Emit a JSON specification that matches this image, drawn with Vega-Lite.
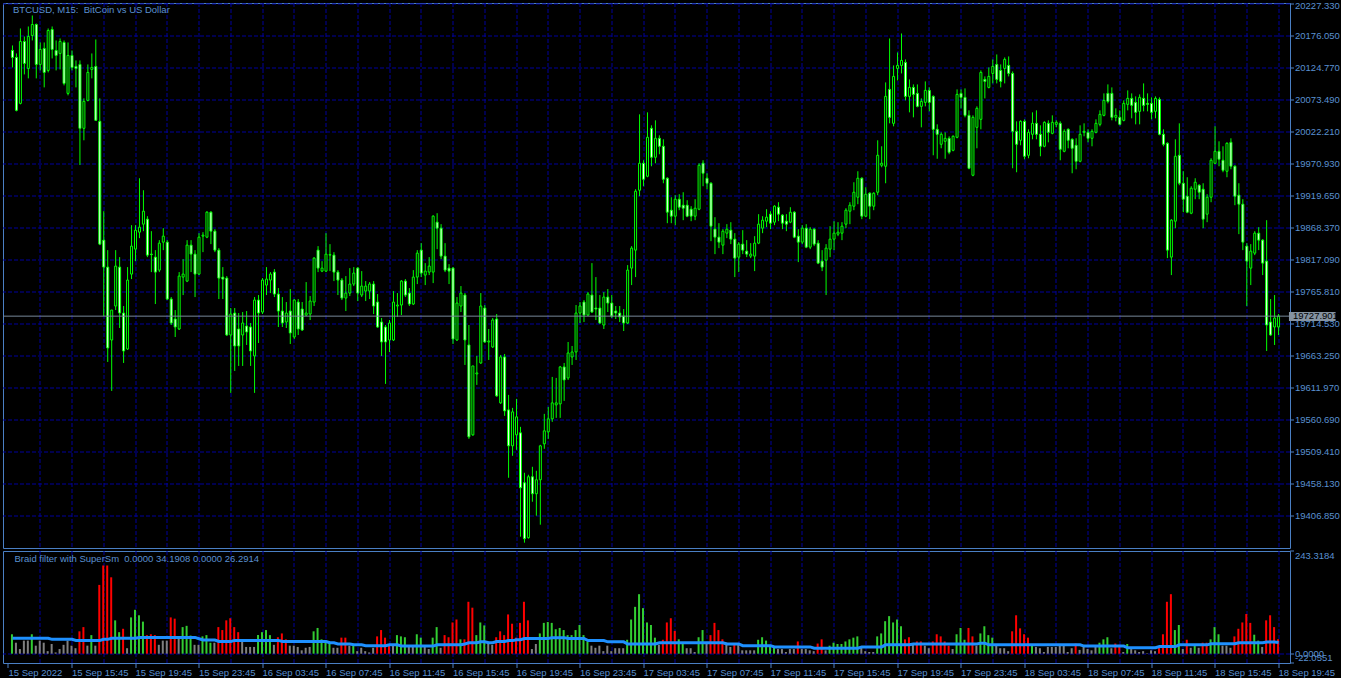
{
"$schema":"https://vega.github.io/schema/vega-lite/v6.json",
"background":"#000000",
"padding":{"left":2,"top":0,"right":0,"bottom":0},
"bounds":"flush",
"spacing":3,
"config":{
"view":{"stroke":"#4a7fc4","strokeWidth":1},
"axis":{"translate":0,"labelFont":"Liberation Sans","labelFontSize":9.5,"labelColor":"#5a90d0","domain":false,"tickColor":"#4a7fc4","gridColor":"#00009c","gridDash":[4,2],"gridWidth":1,"title":null,"tickCount":200}
},
"datasets":{"bars":[
{"t":"2022-09-15T12:00","o":20153.7,"h":20161.7,"l":20126.5,"c":20142.5,"v":46,"k":"g","s":36.5},
{"t":"2022-09-15T12:15","o":20142.5,"h":20148.9,"l":20056.1,"c":20057.7,"v":26,"k":"n","s":36.5},
{"t":"2022-09-15T12:30","o":20068.9,"h":20188.9,"l":20067.3,"c":20168.1,"v":11,"k":"n","s":36.5},
{"t":"2022-09-15T12:45","o":20168.1,"h":20176.1,"l":20115.3,"c":20132.9,"v":31,"k":"n","s":36.5},
{"t":"2022-09-15T13:00","o":20124.9,"h":20192.1,"l":20108.9,"c":20176.1,"v":31,"k":"n","s":36.5},
{"t":"2022-09-15T13:15","o":20177.7,"h":20209.7,"l":20169.7,"c":20195.3,"v":46,"k":"g","s":36.5},
{"t":"2022-09-15T13:30","o":20195.3,"h":20196.9,"l":20108.9,"c":20131.3,"v":19,"k":"n","s":36.5},
{"t":"2022-09-15T13:45","o":20131.3,"h":20166.5,"l":20121.7,"c":20155.3,"v":31,"k":"n","s":36.5},
{"t":"2022-09-15T14:00","o":20156.9,"h":20166.5,"l":20094.5,"c":20118.5,"v":26,"k":"n","s":36.5},
{"t":"2022-09-15T14:15","o":20121.7,"h":20188.9,"l":20118.5,"c":20185.7,"v":6,"k":"n","s":36.5},
{"t":"2022-09-15T14:30","o":20187.3,"h":20192.1,"l":20140.9,"c":20155.3,"v":23,"k":"n","s":34},
{"t":"2022-09-15T14:45","o":20153.7,"h":20169.7,"l":20121.7,"c":20145.7,"v":3,"k":"n","s":34},
{"t":"2022-09-15T15:00","o":20148.9,"h":20172.9,"l":20123.3,"c":20168.1,"v":11,"k":"n","s":34},
{"t":"2022-09-15T15:15","o":20166.5,"h":20169.7,"l":20097.7,"c":20100.9,"v":21,"k":"n","s":34},
{"t":"2022-09-15T15:30","o":20084.9,"h":20166.5,"l":20081.7,"c":20145.7,"v":31,"k":"n","s":34},
{"t":"2022-09-15T15:45","o":20145.7,"h":20153.7,"l":20121.7,"c":20126.5,"v":19,"k":"n","s":34},
{"t":"2022-09-15T16:00","o":20128.1,"h":20137.7,"l":20094.5,"c":20124.9,"v":13,"k":"n","s":31.5},
{"t":"2022-09-15T16:15","o":20131.3,"h":20137.7,"l":19970.1,"c":20028.9,"v":53,"k":"r","s":31.5},
{"t":"2022-09-15T16:30","o":20028.9,"h":20076.9,"l":20009.7,"c":20072.1,"v":63,"k":"r","s":31.5},
{"t":"2022-09-15T16:45","o":20073.7,"h":20131.3,"l":20072.1,"c":20118.5,"v":19,"k":"n","s":31.5},
{"t":"2022-09-15T17:00","o":20123.3,"h":20148.9,"l":20108.9,"c":20126.5,"v":44,"k":"g","s":31.5},
{"t":"2022-09-15T17:15","o":20128.1,"h":20171.3,"l":20041.7,"c":20041.7,"v":19,"k":"n","s":31.5},
{"t":"2022-09-15T17:30","o":20040.1,"h":20076.9,"l":19841.7,"c":19843.3,"v":163,"k":"r","s":31.5},
{"t":"2022-09-15T17:45","o":19849.7,"h":19896.1,"l":19728.1,"c":19806.5,"v":209,"k":"r","s":34},
{"t":"2022-09-15T18:00","o":19806.5,"h":19833.7,"l":19654.5,"c":19676.9,"v":209,"k":"r","s":34},
{"t":"2022-09-15T18:15","o":19689.7,"h":19737.7,"l":19608.1,"c":19737.7,"v":181,"k":"r","s":36.5},
{"t":"2022-09-15T18:30","o":19744.1,"h":19833.7,"l":19737.7,"c":19808.1,"v":79,"k":"g","s":36.5},
{"t":"2022-09-15T18:45","o":19806.5,"h":19822.5,"l":19708.9,"c":19732.9,"v":51,"k":"g","s":36.5},
{"t":"2022-09-15T19:00","o":19732.9,"h":19744.1,"l":19652.9,"c":19672.1,"v":59,"k":"r","s":36.5},
{"t":"2022-09-15T19:15","o":19675.3,"h":19806.5,"l":19673.7,"c":19785.7,"v":13,"k":"n","s":36.5},
{"t":"2022-09-15T19:30","o":19795.3,"h":19873.7,"l":19787.3,"c":19840.1,"v":86,"k":"g","s":36.5},
{"t":"2022-09-15T19:45","o":19835.3,"h":19873.7,"l":19816.1,"c":19865.7,"v":104,"k":"g","s":36.5},
{"t":"2022-09-15T20:00","o":19862.5,"h":19948.9,"l":19852.9,"c":19870.5,"v":91,"k":"g","s":38.5},
{"t":"2022-09-15T20:15","o":19875.3,"h":19929.7,"l":19864.1,"c":19896.1,"v":76,"k":"g","s":38.5},
{"t":"2022-09-15T20:30","o":19883.3,"h":19888.1,"l":19822.5,"c":19825.7,"v":44,"k":"r","s":38.5},
{"t":"2022-09-15T20:45","o":19827.3,"h":19864.1,"l":19798.5,"c":19826.5,"v":46,"k":"r","s":38.5},
{"t":"2022-09-15T21:00","o":19822.5,"h":19833.7,"l":19747.3,"c":19798.5,"v":44,"k":"r","s":38.5},
{"t":"2022-09-15T21:15","o":19801.7,"h":19849.7,"l":19798.5,"c":19844.9,"v":21,"k":"n","s":38.5},
{"t":"2022-09-15T21:30","o":19846.5,"h":19868.9,"l":19833.7,"c":19856.1,"v":31,"k":"n","s":38.5},
{"t":"2022-09-15T21:45","o":19846.5,"h":19849.7,"l":19753.7,"c":19755.3,"v":31,"k":"n","s":38.5},
{"t":"2022-09-15T22:00","o":19755.3,"h":19758.5,"l":19713.7,"c":19716.9,"v":86,"k":"r","s":38.5},
{"t":"2022-09-15T22:15","o":19723.3,"h":19737.7,"l":19694.5,"c":19710.5,"v":83,"k":"r","s":38.5},
{"t":"2022-09-15T22:30","o":19707.3,"h":19798.5,"l":19705.7,"c":19792.1,"v":36,"k":"n","s":38.5},
{"t":"2022-09-15T22:45","o":19790.5,"h":19819.3,"l":19761.7,"c":19795.3,"v":63,"k":"g","s":38.5},
{"t":"2022-09-15T23:00","o":19784.1,"h":19849.7,"l":19782.5,"c":19841.7,"v":66,"k":"g","s":38.5},
{"t":"2022-09-15T23:15","o":19841.7,"h":19849.7,"l":19798.5,"c":19827.3,"v":43,"k":"g","s":38.5},
{"t":"2022-09-15T23:30","o":19827.3,"h":19833.7,"l":19758.5,"c":19795.3,"v":21,"k":"n","s":38.5},
{"t":"2022-09-15T23:45","o":19795.3,"h":19860.9,"l":19793.7,"c":19854.5,"v":21,"k":"n","s":35.5},
{"t":"2022-09-16T00:00","o":19856.1,"h":19862.5,"l":19830.5,"c":19857.7,"v":41,"k":"g","s":32.5},
{"t":"2022-09-16T00:15","o":19854.5,"h":19896.1,"l":19852.9,"c":19894.5,"v":44,"k":"g","s":32.5},
{"t":"2022-09-16T00:30","o":19894.5,"h":19896.1,"l":19843.3,"c":19864.1,"v":26,"k":"g","s":32.5},
{"t":"2022-09-16T00:45","o":19864.1,"h":19867.3,"l":19830.5,"c":19833.7,"v":26,"k":"n","s":32.5},
{"t":"2022-09-16T01:00","o":19833.7,"h":19836.9,"l":19755.3,"c":19788.9,"v":63,"k":"r","s":29},
{"t":"2022-09-16T01:15","o":19790.5,"h":19806.5,"l":19755.3,"c":19787.3,"v":56,"k":"r","s":29},
{"t":"2022-09-16T01:30","o":19788.9,"h":19792.1,"l":19696.1,"c":19697.7,"v":79,"k":"r","s":29},
{"t":"2022-09-16T01:45","o":19697.7,"h":19740.9,"l":19604.9,"c":19731.3,"v":84,"k":"r","s":29},
{"t":"2022-09-16T02:00","o":19732.9,"h":19740.9,"l":19640.1,"c":19680.1,"v":63,"k":"r","s":31.5},
{"t":"2022-09-16T02:15","o":19707.3,"h":19732.9,"l":19648.1,"c":19680.1,"v":51,"k":"r","s":31.5},
{"t":"2022-09-16T02:30","o":19697.7,"h":19734.5,"l":19648.1,"c":19716.9,"v":29,"k":"n","s":31.5},
{"t":"2022-09-16T02:45","o":19712.1,"h":19736.1,"l":19681.7,"c":19702.5,"v":16,"k":"n","s":31.5},
{"t":"2022-09-16T03:00","o":19710.5,"h":19716.9,"l":19648.1,"c":19672.1,"v":16,"k":"n","s":31.5},
{"t":"2022-09-16T03:15","o":19664.1,"h":19758.5,"l":19604.9,"c":19753.7,"v":16,"k":"n","s":31.5},
{"t":"2022-09-16T03:30","o":19753.7,"h":19761.7,"l":19684.9,"c":19732.9,"v":44,"k":"g","s":31.5},
{"t":"2022-09-16T03:45","o":19734.5,"h":19788.9,"l":19731.3,"c":19785.7,"v":51,"k":"g","s":31.5},
{"t":"2022-09-16T04:00","o":19777.7,"h":19806.5,"l":19761.7,"c":19787.3,"v":56,"k":"g","s":31.5},
{"t":"2022-09-16T04:15","o":19785.7,"h":19798.5,"l":19764.9,"c":19795.3,"v":44,"k":"g","s":31.5},
{"t":"2022-09-16T04:30","o":19798.5,"h":19803.3,"l":19758.5,"c":19763.3,"v":21,"k":"n","s":31.5},
{"t":"2022-09-16T04:45","o":19763.3,"h":19772.9,"l":19710.5,"c":19736.1,"v":39,"k":"r","s":31.5},
{"t":"2022-09-16T05:00","o":19736.1,"h":19758.5,"l":19710.5,"c":19716.9,"v":48,"k":"r","s":29},
{"t":"2022-09-16T05:15","o":19718.5,"h":19750.5,"l":19708.9,"c":19732.9,"v":34,"k":"r","s":29},
{"t":"2022-09-16T05:30","o":19736.1,"h":19771.3,"l":19683.3,"c":19700.9,"v":19,"k":"n","s":29},
{"t":"2022-09-16T05:45","o":19694.5,"h":19755.3,"l":19691.3,"c":19753.7,"v":19,"k":"n","s":29},
{"t":"2022-09-16T06:00","o":19750.5,"h":19755.3,"l":19697.7,"c":19707.3,"v":16,"k":"n","s":29},
{"t":"2022-09-16T06:15","o":19739.3,"h":19750.5,"l":19704.1,"c":19705.7,"v":8,"k":"n","s":29},
{"t":"2022-09-16T06:30","o":19729.7,"h":19782.5,"l":19728.1,"c":19732.9,"v":14,"k":"n","s":29},
{"t":"2022-09-16T06:45","o":19731.3,"h":19760.1,"l":19721.7,"c":19752.1,"v":16,"k":"n","s":29},
{"t":"2022-09-16T07:00","o":19750.5,"h":19822.5,"l":19744.1,"c":19820.9,"v":53,"k":"g","s":29},
{"t":"2022-09-16T07:15","o":19833.7,"h":19840.1,"l":19798.5,"c":19804.9,"v":61,"k":"g","s":29},
{"t":"2022-09-16T07:30","o":19800.1,"h":19816.1,"l":19798.5,"c":19804.9,"v":34,"k":"g","s":29},
{"t":"2022-09-16T07:45","o":19800.1,"h":19860.9,"l":19798.5,"c":19827.3,"v":31,"k":"g","s":29},
{"t":"2022-09-16T08:00","o":19825.7,"h":19843.3,"l":19800.1,"c":19826.5,"v":26,"k":"g","s":26},
{"t":"2022-09-16T08:15","o":19825.7,"h":19830.5,"l":19784.1,"c":19798.5,"v":14,"k":"n","s":26},
{"t":"2022-09-16T08:30","o":19798.5,"h":19801.7,"l":19761.7,"c":19785.7,"v":14,"k":"n","s":23},
{"t":"2022-09-16T08:45","o":19785.7,"h":19788.9,"l":19753.7,"c":19756.9,"v":38,"k":"r","s":23},
{"t":"2022-09-16T09:00","o":19756.9,"h":19792.1,"l":19736.1,"c":19764.9,"v":38,"k":"r","s":23},
{"t":"2022-09-16T09:15","o":19764.9,"h":19804.9,"l":19760.1,"c":19779.3,"v":19,"k":"n","s":23},
{"t":"2022-09-16T09:30","o":19779.3,"h":19806.5,"l":19776.1,"c":19796.9,"v":23,"k":"g","s":21},
{"t":"2022-09-16T09:45","o":19804.9,"h":19806.5,"l":19752.1,"c":19764.9,"v":6,"k":"n","s":21},
{"t":"2022-09-16T10:00","o":19761.7,"h":19800.1,"l":19758.5,"c":19776.1,"v":14,"k":"n","s":21},
{"t":"2022-09-16T10:15","o":19768.1,"h":19784.1,"l":19752.1,"c":19776.1,"v":6,"k":"n","s":19},
{"t":"2022-09-16T10:30","o":19768.1,"h":19782.5,"l":19755.3,"c":19779.3,"v":3,"k":"n","s":19},
{"t":"2022-09-16T10:45","o":19779.3,"h":19784.1,"l":19731.3,"c":19744.1,"v":14,"k":"n","s":19},
{"t":"2022-09-16T11:00","o":19750.5,"h":19763.3,"l":19708.9,"c":19710.5,"v":41,"k":"r","s":19},
{"t":"2022-09-16T11:15","o":19718.5,"h":19724.9,"l":19664.1,"c":19686.5,"v":56,"k":"r","s":19},
{"t":"2022-09-16T11:30","o":19710.5,"h":19713.7,"l":19619.3,"c":19686.5,"v":38,"k":"r","s":19},
{"t":"2022-09-16T11:45","o":19689.7,"h":19721.7,"l":19670.5,"c":19716.9,"v":21,"k":"r","s":21},
{"t":"2022-09-16T12:00","o":19689.7,"h":19768.1,"l":19688.1,"c":19750.5,"v":19,"k":"n","s":21},
{"t":"2022-09-16T12:15","o":19744.1,"h":19764.9,"l":19726.5,"c":19745.7,"v":44,"k":"g","s":21},
{"t":"2022-09-16T12:30","o":19745.7,"h":19785.7,"l":19729.7,"c":19784.1,"v":41,"k":"g","s":18},
{"t":"2022-09-16T12:45","o":19784.1,"h":19787.3,"l":19758.5,"c":19761.7,"v":39,"k":"g","s":18},
{"t":"2022-09-16T13:00","o":19764.9,"h":19772.9,"l":19744.1,"c":19747.3,"v":19,"k":"n","s":18},
{"t":"2022-09-16T13:15","o":19747.3,"h":19801.7,"l":19745.7,"c":19790.5,"v":16,"k":"n","s":18},
{"t":"2022-09-16T13:30","o":19790.5,"h":19833.7,"l":19779.3,"c":19828.9,"v":46,"k":"g","s":18},
{"t":"2022-09-16T13:45","o":19833.7,"h":19844.9,"l":19790.5,"c":19796.9,"v":38,"k":"g","s":18},
{"t":"2022-09-16T14:00","o":19793.7,"h":19812.9,"l":19777.7,"c":19800.1,"v":16,"k":"n","s":18},
{"t":"2022-09-16T14:15","o":19798.5,"h":19822.5,"l":19793.7,"c":19808.1,"v":11,"k":"n","s":18},
{"t":"2022-09-16T14:30","o":19798.5,"h":19889.7,"l":19780.9,"c":19888.1,"v":38,"k":"g","s":18},
{"t":"2022-09-16T14:45","o":19878.5,"h":19892.9,"l":19835.3,"c":19868.9,"v":63,"k":"g","s":21},
{"t":"2022-09-16T15:00","o":19868.9,"h":19875.3,"l":19819.3,"c":19824.1,"v":14,"k":"n","s":21},
{"t":"2022-09-16T15:15","o":19824.1,"h":19844.9,"l":19798.5,"c":19801.7,"v":44,"k":"r","s":21},
{"t":"2022-09-16T15:30","o":19804.9,"h":19811.3,"l":19779.3,"c":19800.1,"v":39,"k":"r","s":21},
{"t":"2022-09-16T15:45","o":19804.9,"h":19806.5,"l":19683.3,"c":19691.3,"v":74,"k":"r","s":21},
{"t":"2022-09-16T16:00","o":19689.7,"h":19758.5,"l":19688.1,"c":19748.9,"v":81,"k":"r","s":21},
{"t":"2022-09-16T16:15","o":19744.1,"h":19776.1,"l":19734.5,"c":19764.9,"v":34,"k":"g","s":21},
{"t":"2022-09-16T16:30","o":19761.7,"h":19764.9,"l":19649.7,"c":19689.7,"v":34,"k":"r","s":23},
{"t":"2022-09-16T16:45","o":19681.7,"h":19713.7,"l":19531.3,"c":19534.5,"v":123,"k":"r","s":26},
{"t":"2022-09-16T17:00","o":19537.7,"h":19648.1,"l":19536.1,"c":19648.1,"v":109,"k":"r","s":26},
{"t":"2022-09-16T17:15","o":19635.3,"h":19664.1,"l":19617.7,"c":19636.9,"v":44,"k":"g","s":26},
{"t":"2022-09-16T17:30","o":19652.9,"h":19764.9,"l":19651.3,"c":19744.1,"v":74,"k":"g","s":28},
{"t":"2022-09-16T17:45","o":19740.9,"h":19745.7,"l":19684.9,"c":19686.5,"v":67,"k":"g","s":28},
{"t":"2022-09-16T18:00","o":19686.5,"h":19707.3,"l":19657.7,"c":19688.1,"v":23,"k":"n","s":26},
{"t":"2022-09-16T18:15","o":19678.5,"h":19724.9,"l":19676.9,"c":19721.7,"v":21,"k":"n","s":26},
{"t":"2022-09-16T18:30","o":19723.3,"h":19731.3,"l":19598.5,"c":19600.1,"v":39,"k":"r","s":29},
{"t":"2022-09-16T18:45","o":19588.9,"h":19665.7,"l":19587.3,"c":19662.5,"v":53,"k":"r","s":29},
{"t":"2022-09-16T19:00","o":19662.5,"h":19667.3,"l":19568.1,"c":19576.1,"v":44,"k":"r","s":29},
{"t":"2022-09-16T19:15","o":19577.7,"h":19601.7,"l":19468.9,"c":19520.1,"v":93,"k":"r","s":31},
{"t":"2022-09-16T19:30","o":19520.1,"h":19580.9,"l":19504.1,"c":19574.5,"v":71,"k":"r","s":31},
{"t":"2022-09-16T19:45","o":19537.7,"h":19595.3,"l":19513.7,"c":19566.5,"v":38,"k":"r","s":33},
{"t":"2022-09-16T20:00","o":19540.9,"h":19550.5,"l":19374.5,"c":19452.9,"v":73,"k":"r","s":33},
{"t":"2022-09-16T20:15","o":19460.9,"h":19476.9,"l":19364.9,"c":19371.3,"v":123,"k":"r","s":36},
{"t":"2022-09-16T20:30","o":19372.9,"h":19473.7,"l":19371.3,"c":19470.5,"v":79,"k":"r","s":36},
{"t":"2022-09-16T20:45","o":19470.5,"h":19486.5,"l":19430.5,"c":19443.3,"v":11,"k":"n","s":36},
{"t":"2022-09-16T21:00","o":19443.3,"h":19480.1,"l":19408.1,"c":19465.7,"v":23,"k":"n","s":36},
{"t":"2022-09-16T21:15","o":19465.7,"h":19521.7,"l":19393.7,"c":19520.1,"v":48,"k":"g","s":36},
{"t":"2022-09-16T21:30","o":19523.3,"h":19571.3,"l":19515.3,"c":19544.1,"v":73,"k":"g","s":36},
{"t":"2022-09-16T21:45","o":19542.5,"h":19582.5,"l":19531.3,"c":19563.3,"v":75,"k":"g","s":36},
{"t":"2022-09-16T22:00","o":19563.3,"h":19630.5,"l":19558.5,"c":19588.9,"v":73,"k":"g","s":38},
{"t":"2022-09-16T22:15","o":19585.7,"h":19628.9,"l":19564.9,"c":19588.9,"v":58,"k":"g","s":38},
{"t":"2022-09-16T22:30","o":19587.3,"h":19648.1,"l":19564.9,"c":19646.5,"v":61,"k":"g","s":38},
{"t":"2022-09-16T22:45","o":19646.5,"h":19652.9,"l":19592.1,"c":19625.7,"v":56,"k":"g","s":38},
{"t":"2022-09-16T23:00","o":19628.9,"h":19686.5,"l":19625.7,"c":19668.9,"v":44,"k":"g","s":36},
{"t":"2022-09-16T23:15","o":19662.5,"h":19680.1,"l":19649.7,"c":19670.5,"v":44,"k":"g","s":36},
{"t":"2022-09-16T23:30","o":19670.5,"h":19745.7,"l":19657.7,"c":19732.9,"v":56,"k":"g","s":36},
{"t":"2022-09-16T23:45","o":19732.9,"h":19750.5,"l":19716.9,"c":19744.1,"v":68,"k":"g","s":36},
{"t":"2022-09-17T00:00","o":19750.5,"h":19753.7,"l":19718.5,"c":19729.7,"v":44,"k":"g","s":36},
{"t":"2022-09-17T00:15","o":19729.7,"h":19766.5,"l":19728.1,"c":19763.3,"v":29,"k":"g","s":31},
{"t":"2022-09-17T00:30","o":19761.7,"h":19812.9,"l":19732.9,"c":19734.5,"v":19,"k":"n","s":31},
{"t":"2022-09-17T00:45","o":19740.9,"h":19790.5,"l":19721.7,"c":19739.3,"v":14,"k":"n","s":31},
{"t":"2022-09-17T01:00","o":19740.9,"h":19761.7,"l":19715.3,"c":19716.9,"v":19,"k":"n","s":31},
{"t":"2022-09-17T01:15","o":19713.7,"h":19766.5,"l":19707.3,"c":19758.5,"v":6,"k":"n","s":31},
{"t":"2022-09-17T01:30","o":19758.5,"h":19771.3,"l":19734.5,"c":19748.9,"v":19,"k":"n","s":28},
{"t":"2022-09-17T01:45","o":19748.9,"h":19761.7,"l":19724.9,"c":19728.1,"v":6,"k":"n","s":28},
{"t":"2022-09-17T02:00","o":19736.1,"h":19744.1,"l":19723.3,"c":19732.9,"v":13,"k":"n","s":28},
{"t":"2022-09-17T02:15","o":19732.9,"h":19744.1,"l":19718.5,"c":19726.5,"v":13,"k":"n","s":28},
{"t":"2022-09-17T02:30","o":19728.1,"h":19739.3,"l":19704.1,"c":19716.9,"v":13,"k":"n","s":28},
{"t":"2022-09-17T02:45","o":19716.9,"h":19809.7,"l":19715.3,"c":19801.7,"v":33,"k":"g","s":23},
{"t":"2022-09-17T03:00","o":19804.9,"h":19840.1,"l":19777.7,"c":19836.9,"v":81,"k":"g","s":23},
{"t":"2022-09-17T03:15","o":19833.7,"h":19931.3,"l":19790.5,"c":19928.1,"v":111,"k":"g","s":23},
{"t":"2022-09-17T03:30","o":19929.7,"h":20051.3,"l":19920.1,"c":19972.9,"v":141,"k":"g","s":23},
{"t":"2022-09-17T03:45","o":19972.9,"h":19977.7,"l":19936.1,"c":19947.3,"v":108,"k":"g","s":23},
{"t":"2022-09-17T04:00","o":19952.1,"h":20054.5,"l":19950.5,"c":20014.5,"v":74,"k":"g","s":23},
{"t":"2022-09-17T04:15","o":20028.9,"h":20033.7,"l":19968.1,"c":19982.5,"v":68,"k":"g","s":23},
{"t":"2022-09-17T04:30","o":19982.5,"h":20041.7,"l":19972.9,"c":20012.9,"v":38,"k":"g","s":23},
{"t":"2022-09-17T04:45","o":20012.9,"h":20017.7,"l":19987.3,"c":20000.1,"v":21,"k":"n","s":26},
{"t":"2022-09-17T05:00","o":20000.1,"h":20011.3,"l":19940.9,"c":19947.3,"v":33,"k":"r","s":26},
{"t":"2022-09-17T05:15","o":19948.9,"h":19950.5,"l":19876.9,"c":19894.5,"v":74,"k":"r","s":26},
{"t":"2022-09-17T05:30","o":19897.7,"h":19918.5,"l":19876.9,"c":19888.1,"v":84,"k":"r","s":26},
{"t":"2022-09-17T05:45","o":19888.1,"h":19921.7,"l":19873.7,"c":19915.3,"v":54,"k":"r","s":26},
{"t":"2022-09-17T06:00","o":19915.3,"h":19923.3,"l":19897.7,"c":19902.5,"v":34,"k":"g","s":26},
{"t":"2022-09-17T06:15","o":19905.7,"h":19926.5,"l":19881.7,"c":19900.9,"v":23,"k":"g","s":26},
{"t":"2022-09-17T06:30","o":19905.7,"h":19913.7,"l":19886.5,"c":19888.1,"v":13,"k":"n","s":26},
{"t":"2022-09-17T06:45","o":19899.3,"h":19904.1,"l":19880.1,"c":19888.1,"v":13,"k":"n","s":26},
{"t":"2022-09-17T07:00","o":19888.1,"h":19915.3,"l":19881.7,"c":19900.9,"v":4,"k":"n","s":26},
{"t":"2022-09-17T07:15","o":19899.3,"h":19972.9,"l":19897.7,"c":19969.7,"v":39,"k":"g","s":26},
{"t":"2022-09-17T07:30","o":19972.9,"h":19977.7,"l":19936.1,"c":19956.9,"v":56,"k":"g","s":26},
{"t":"2022-09-17T07:45","o":19948.9,"h":19956.9,"l":19931.3,"c":19940.9,"v":26,"k":"n","s":26},
{"t":"2022-09-17T08:00","o":19940.9,"h":19942.5,"l":19848.1,"c":19872.1,"v":44,"k":"r","s":26},
{"t":"2022-09-17T08:15","o":19867.3,"h":19886.5,"l":19827.3,"c":19854.5,"v":73,"k":"r","s":26},
{"t":"2022-09-17T08:30","o":19854.5,"h":19876.9,"l":19836.9,"c":19846.5,"v":56,"k":"r","s":26},
{"t":"2022-09-17T08:45","o":19841.7,"h":19867.3,"l":19827.3,"c":19864.1,"v":34,"k":"r","s":26},
{"t":"2022-09-17T09:00","o":19860.9,"h":19875.3,"l":19852.9,"c":19867.3,"v":26,"k":"n","s":23},
{"t":"2022-09-17T09:15","o":19865.7,"h":19878.5,"l":19843.3,"c":19851.3,"v":16,"k":"n","s":23},
{"t":"2022-09-17T09:30","o":19851.3,"h":19860.9,"l":19790.5,"c":19820.9,"v":21,"k":"r","s":23},
{"t":"2022-09-17T09:45","o":19822.5,"h":19846.5,"l":19798.5,"c":19843.3,"v":21,"k":"n","s":23},
{"t":"2022-09-17T10:00","o":19843.3,"h":19865.7,"l":19827.3,"c":19833.7,"v":8,"k":"n","s":19},
{"t":"2022-09-17T10:15","o":19832.1,"h":19849.7,"l":19822.5,"c":19827.3,"v":8,"k":"n","s":19},
{"t":"2022-09-17T10:30","o":19824.1,"h":19844.9,"l":19820.9,"c":19827.3,"v":8,"k":"n","s":19},
{"t":"2022-09-17T10:45","o":19824.1,"h":19856.1,"l":19800.1,"c":19844.9,"v":8,"k":"n","s":19},
{"t":"2022-09-17T11:00","o":19844.9,"h":19891.3,"l":19843.3,"c":19875.3,"v":33,"k":"g","s":19},
{"t":"2022-09-17T11:15","o":19868.9,"h":19888.1,"l":19860.9,"c":19881.7,"v":39,"k":"g","s":19},
{"t":"2022-09-17T11:30","o":19880.1,"h":19899.3,"l":19870.5,"c":19886.5,"v":31,"k":"g","s":19},
{"t":"2022-09-17T11:45","o":19891.3,"h":19896.1,"l":19867.3,"c":19876.9,"v":19,"k":"g","s":19},
{"t":"2022-09-17T12:00","o":19878.5,"h":19905.7,"l":19873.7,"c":19904.1,"v":16,"k":"g","s":16},
{"t":"2022-09-17T12:15","o":19902.5,"h":19910.5,"l":19880.1,"c":19891.3,"v":11,"k":"n","s":16},
{"t":"2022-09-17T12:30","o":19889.7,"h":19891.3,"l":19867.3,"c":19876.9,"v":11,"k":"n","s":16},
{"t":"2022-09-17T12:45","o":19880.1,"h":19891.3,"l":19864.1,"c":19875.3,"v":4,"k":"n","s":16},
{"t":"2022-09-17T13:00","o":19878.5,"h":19902.5,"l":19876.9,"c":19894.5,"v":11,"k":"n","s":16},
{"t":"2022-09-17T13:15","o":19894.5,"h":19896.1,"l":19852.9,"c":19854.5,"v":11,"k":"n","s":16},
{"t":"2022-09-17T13:30","o":19856.1,"h":19867.3,"l":19814.5,"c":19846.5,"v":29,"k":"r","s":16},
{"t":"2022-09-17T13:45","o":19846.5,"h":19873.7,"l":19843.3,"c":19868.9,"v":11,"k":"n","s":16},
{"t":"2022-09-17T14:00","o":19868.9,"h":19875.3,"l":19836.9,"c":19838.5,"v":11,"k":"n","s":16},
{"t":"2022-09-17T14:15","o":19838.5,"h":19870.5,"l":19835.3,"c":19867.3,"v":8,"k":"n","s":16},
{"t":"2022-09-17T14:30","o":19867.3,"h":19868.9,"l":19840.1,"c":19843.3,"v":6,"k":"n","s":13},
{"t":"2022-09-17T14:45","o":19844.9,"h":19849.7,"l":19811.3,"c":19812.9,"v":24,"k":"r","s":13},
{"t":"2022-09-17T15:00","o":19816.1,"h":19833.7,"l":19800.1,"c":19806.5,"v":34,"k":"r","s":13},
{"t":"2022-09-17T15:15","o":19817.7,"h":19843.3,"l":19761.7,"c":19836.9,"v":8,"k":"n","s":13},
{"t":"2022-09-17T15:30","o":19835.3,"h":19872.1,"l":19822.5,"c":19851.3,"v":19,"k":"g","s":13},
{"t":"2022-09-17T15:45","o":19851.3,"h":19880.1,"l":19833.7,"c":19860.9,"v":26,"k":"g","s":13},
{"t":"2022-09-17T16:00","o":19859.3,"h":19878.5,"l":19856.1,"c":19862.5,"v":23,"k":"g","s":13},
{"t":"2022-09-17T16:15","o":19860.9,"h":19878.5,"l":19849.7,"c":19872.1,"v":23,"k":"g","s":13},
{"t":"2022-09-17T16:30","o":19875.3,"h":19900.9,"l":19868.9,"c":19897.7,"v":29,"k":"g","s":13},
{"t":"2022-09-17T16:45","o":19896.1,"h":19910.5,"l":19875.3,"c":19905.7,"v":34,"k":"g","s":13},
{"t":"2022-09-17T17:00","o":19904.1,"h":19942.5,"l":19897.7,"c":19926.5,"v":38,"k":"g","s":13},
{"t":"2022-09-17T17:15","o":19918.5,"h":19960.1,"l":19907.3,"c":19948.9,"v":41,"k":"g","s":13},
{"t":"2022-09-17T17:30","o":19948.9,"h":19950.5,"l":19883.3,"c":19888.1,"v":16,"k":"n","s":16},
{"t":"2022-09-17T17:45","o":19888.1,"h":19934.5,"l":19886.5,"c":19923.3,"v":6,"k":"n","s":16},
{"t":"2022-09-17T18:00","o":19924.9,"h":19926.5,"l":19883.3,"c":19904.1,"v":4,"k":"n","s":16},
{"t":"2022-09-17T18:15","o":19904.1,"h":19926.5,"l":19897.7,"c":19924.9,"v":4,"k":"n","s":16},
{"t":"2022-09-17T18:30","o":19926.5,"h":20009.7,"l":19921.7,"c":19985.7,"v":41,"k":"g","s":16},
{"t":"2022-09-17T18:45","o":19969.7,"h":20000.1,"l":19966.5,"c":19972.9,"v":48,"k":"g","s":16},
{"t":"2022-09-17T19:00","o":19968.1,"h":20102.5,"l":19940.9,"c":20080.1,"v":77,"k":"g","s":21},
{"t":"2022-09-17T19:15","o":20091.3,"h":20172.9,"l":20036.9,"c":20046.5,"v":89,"k":"g","s":21},
{"t":"2022-09-17T19:30","o":20036.9,"h":20129.7,"l":20032.1,"c":20112.1,"v":74,"k":"g","s":21},
{"t":"2022-09-17T19:45","o":20124.9,"h":20150.5,"l":20105.7,"c":20129.7,"v":81,"k":"g","s":21},
{"t":"2022-09-17T20:00","o":20129.7,"h":20180.9,"l":20116.9,"c":20137.7,"v":65,"k":"g","s":21},
{"t":"2022-09-17T20:15","o":20134.5,"h":20139.3,"l":20073.7,"c":20080.1,"v":34,"k":"r","s":21},
{"t":"2022-09-17T20:30","o":20080.1,"h":20107.3,"l":20054.5,"c":20094.5,"v":39,"k":"r","s":21},
{"t":"2022-09-17T20:45","o":20094.5,"h":20099.3,"l":20046.5,"c":20083.3,"v":21,"k":"n","s":23},
{"t":"2022-09-17T21:00","o":20084.9,"h":20099.3,"l":20062.5,"c":20064.1,"v":29,"k":"r","s":23},
{"t":"2022-09-17T21:15","o":20064.1,"h":20076.9,"l":20030.5,"c":20072.1,"v":29,"k":"r","s":23},
{"t":"2022-09-17T21:30","o":20070.5,"h":20104.1,"l":20064.1,"c":20089.7,"v":19,"k":"n","s":23},
{"t":"2022-09-17T21:45","o":20089.7,"h":20094.5,"l":20056.1,"c":20070.5,"v":13,"k":"n","s":23},
{"t":"2022-09-17T22:00","o":20080.1,"h":20081.7,"l":19985.7,"c":20027.3,"v":29,"k":"r","s":23},
{"t":"2022-09-17T22:15","o":20027.3,"h":20035.3,"l":19980.1,"c":20019.3,"v":46,"k":"r","s":23},
{"t":"2022-09-17T22:30","o":20003.3,"h":20022.5,"l":19996.9,"c":20019.3,"v":41,"k":"r","s":23},
{"t":"2022-09-17T22:45","o":20008.1,"h":20022.5,"l":19980.1,"c":20012.9,"v":29,"k":"r","s":23},
{"t":"2022-09-17T23:00","o":20012.9,"h":20016.1,"l":19987.3,"c":19990.5,"v":19,"k":"r","s":23},
{"t":"2022-09-17T23:15","o":19993.7,"h":20017.7,"l":19992.1,"c":20016.1,"v":11,"k":"n","s":23},
{"t":"2022-09-17T23:30","o":20014.5,"h":20091.3,"l":20012.9,"c":20083.3,"v":46,"k":"g","s":23},
{"t":"2022-09-17T23:45","o":20084.9,"h":20091.3,"l":20060.9,"c":20078.5,"v":61,"k":"g","s":23},
{"t":"2022-09-18T00:00","o":20078.5,"h":20092.9,"l":20046.5,"c":20049.7,"v":33,"k":"g","s":23},
{"t":"2022-09-18T00:15","o":20049.7,"h":20057.7,"l":19963.3,"c":19964.9,"v":61,"k":"r","s":23},
{"t":"2022-09-18T00:30","o":19953.7,"h":20049.7,"l":19952.1,"c":20046.5,"v":41,"k":"r","s":23},
{"t":"2022-09-18T00:45","o":20030.5,"h":20064.1,"l":19996.9,"c":20060.9,"v":19,"k":"n","s":23},
{"t":"2022-09-18T01:00","o":20043.3,"h":20121.7,"l":20027.3,"c":20118.5,"v":48,"k":"g","s":25},
{"t":"2022-09-18T01:15","o":20107.3,"h":20112.1,"l":20076.9,"c":20104.1,"v":65,"k":"g","s":25},
{"t":"2022-09-18T01:30","o":20094.5,"h":20126.5,"l":20092.9,"c":20112.1,"v":44,"k":"g","s":21},
{"t":"2022-09-18T01:45","o":20116.9,"h":20139.3,"l":20100.9,"c":20128.1,"v":38,"k":"g","s":21},
{"t":"2022-09-18T02:00","o":20131.3,"h":20147.3,"l":20100.9,"c":20107.3,"v":19,"k":"n","s":21},
{"t":"2022-09-18T02:15","o":20121.7,"h":20131.3,"l":20094.5,"c":20104.1,"v":13,"k":"n","s":21},
{"t":"2022-09-18T02:30","o":20124.9,"h":20142.5,"l":20100.9,"c":20139.3,"v":13,"k":"n","s":21},
{"t":"2022-09-18T02:45","o":20129.7,"h":20144.1,"l":20112.1,"c":20116.9,"v":6,"k":"n","s":21},
{"t":"2022-09-18T03:00","o":20116.9,"h":20120.1,"l":19964.9,"c":20024.1,"v":53,"k":"r","s":21},
{"t":"2022-09-18T03:15","o":20024.1,"h":20040.1,"l":19958.5,"c":20003.3,"v":91,"k":"r","s":21},
{"t":"2022-09-18T03:30","o":20009.7,"h":20041.7,"l":20001.7,"c":20040.1,"v":60,"k":"r","s":21},
{"t":"2022-09-18T03:45","o":20040.1,"h":20043.3,"l":19979.3,"c":19984.1,"v":46,"k":"r","s":21},
{"t":"2022-09-18T04:00","o":19985.7,"h":20027.3,"l":19980.9,"c":20022.5,"v":38,"k":"r","s":21},
{"t":"2022-09-18T04:15","o":20019.3,"h":20054.5,"l":20011.3,"c":20036.9,"v":21,"k":"g","s":21},
{"t":"2022-09-18T04:30","o":20036.9,"h":20057.7,"l":20011.3,"c":20019.3,"v":16,"k":"n","s":21},
{"t":"2022-09-18T04:45","o":20019.3,"h":20033.7,"l":19984.1,"c":20000.1,"v":13,"k":"n","s":21},
{"t":"2022-09-18T05:00","o":20000.1,"h":20040.1,"l":19998.5,"c":20038.5,"v":4,"k":"n","s":21},
{"t":"2022-09-18T05:15","o":20036.9,"h":20041.7,"l":20006.5,"c":20022.5,"v":16,"k":"n","s":21},
{"t":"2022-09-18T05:30","o":20020.9,"h":20049.7,"l":20019.3,"c":20038.5,"v":16,"k":"n","s":21},
{"t":"2022-09-18T05:45","o":20035.3,"h":20041.7,"l":20030.5,"c":20038.5,"v":16,"k":"n","s":21},
{"t":"2022-09-18T06:00","o":20036.9,"h":20040.1,"l":19977.7,"c":19995.3,"v":19,"k":"n","s":21},
{"t":"2022-09-18T06:15","o":19992.1,"h":20027.3,"l":19990.5,"c":20024.1,"v":19,"k":"n","s":21},
{"t":"2022-09-18T06:30","o":20027.3,"h":20028.9,"l":19996.9,"c":20009.7,"v":4,"k":"n","s":21},
{"t":"2022-09-18T06:45","o":20011.3,"h":20012.9,"l":19956.9,"c":19996.9,"v":13,"k":"n","s":21},
{"t":"2022-09-18T07:00","o":20001.7,"h":20012.9,"l":19963.3,"c":19976.1,"v":24,"k":"r","s":21},
{"t":"2022-09-18T07:15","o":19976.1,"h":20033.7,"l":19974.5,"c":20019.3,"v":9,"k":"n","s":21},
{"t":"2022-09-18T07:30","o":20022.5,"h":20036.9,"l":20016.1,"c":20024.1,"v":19,"k":"n","s":18},
{"t":"2022-09-18T07:45","o":20022.5,"h":20027.3,"l":20006.5,"c":20012.9,"v":11,"k":"n","s":18},
{"t":"2022-09-18T08:00","o":20012.9,"h":20027.3,"l":20000.1,"c":20024.1,"v":8,"k":"n","s":18},
{"t":"2022-09-18T08:15","o":20022.5,"h":20043.3,"l":20020.9,"c":20036.9,"v":16,"k":"n","s":18},
{"t":"2022-09-18T08:30","o":20035.3,"h":20057.7,"l":20032.1,"c":20051.3,"v":26,"k":"g","s":18},
{"t":"2022-09-18T08:45","o":20049.7,"h":20084.9,"l":20048.1,"c":20073.7,"v":34,"k":"g","s":18},
{"t":"2022-09-18T09:00","o":20084.9,"h":20099.3,"l":20068.9,"c":20072.1,"v":39,"k":"g","s":18},
{"t":"2022-09-18T09:15","o":20084.9,"h":20094.5,"l":20041.7,"c":20046.5,"v":13,"k":"n","s":18},
{"t":"2022-09-18T09:30","o":20046.5,"h":20060.9,"l":20040.1,"c":20049.7,"v":24,"k":"r","s":18},
{"t":"2022-09-18T09:45","o":20046.5,"h":20057.7,"l":20033.7,"c":20035.3,"v":21,"k":"r","s":18},
{"t":"2022-09-18T10:00","o":20041.7,"h":20073.7,"l":20040.1,"c":20068.9,"v":4,"k":"n","s":18},
{"t":"2022-09-18T10:15","o":20067.3,"h":20089.7,"l":20057.7,"c":20076.9,"v":23,"k":"g","s":14},
{"t":"2022-09-18T10:30","o":20076.9,"h":20084.9,"l":20044.9,"c":20065.7,"v":11,"k":"n","s":14},
{"t":"2022-09-18T10:45","o":20070.5,"h":20080.1,"l":20035.3,"c":20054.5,"v":8,"k":"n","s":14},
{"t":"2022-09-18T11:00","o":20056.1,"h":20083.3,"l":20035.3,"c":20078.5,"v":4,"k":"n","s":14},
{"t":"2022-09-18T11:15","o":20076.9,"h":20100.9,"l":20056.1,"c":20065.7,"v":6,"k":"n","s":14},
{"t":"2022-09-18T11:30","o":20068.9,"h":20084.9,"l":20056.1,"c":20067.3,"v":1,"k":"n","s":14},
{"t":"2022-09-18T11:45","o":20068.9,"h":20078.5,"l":20043.3,"c":20054.5,"v":8,"k":"n","s":14},
{"t":"2022-09-18T12:00","o":20056.1,"h":20080.1,"l":20044.9,"c":20076.9,"v":6,"k":"n","s":14},
{"t":"2022-09-18T12:15","o":20075.3,"h":20078.5,"l":20017.7,"c":20019.3,"v":16,"k":"r","s":17},
{"t":"2022-09-18T12:30","o":20019.3,"h":20027.3,"l":20000.1,"c":20003.3,"v":46,"k":"r","s":17},
{"t":"2022-09-18T12:45","o":20004.9,"h":20006.5,"l":19820.9,"c":19833.7,"v":123,"k":"r","s":17},
{"t":"2022-09-18T13:00","o":19822.5,"h":19883.3,"l":19793.7,"c":19881.7,"v":141,"k":"r","s":17},
{"t":"2022-09-18T13:15","o":19880.1,"h":20011.3,"l":19868.9,"c":19984.1,"v":56,"k":"g","s":17},
{"t":"2022-09-18T13:30","o":19985.7,"h":20036.9,"l":19937.7,"c":19940.9,"v":68,"k":"g","s":21},
{"t":"2022-09-18T13:45","o":19940.9,"h":19960.1,"l":19894.5,"c":19915.3,"v":11,"k":"n","s":21},
{"t":"2022-09-18T14:00","o":19920.1,"h":19950.5,"l":19892.9,"c":19894.5,"v":33,"k":"r","s":21},
{"t":"2022-09-18T14:15","o":19892.9,"h":19936.1,"l":19891.3,"c":19932.9,"v":14,"k":"n","s":21},
{"t":"2022-09-18T14:30","o":19931.3,"h":19948.9,"l":19915.3,"c":19942.5,"v":21,"k":"g","s":21},
{"t":"2022-09-18T14:45","o":19937.7,"h":19939.3,"l":19915.3,"c":19926.5,"v":14,"k":"n","s":21},
{"t":"2022-09-18T15:00","o":19931.3,"h":19940.9,"l":19868.9,"c":19883.3,"v":26,"k":"r","s":21},
{"t":"2022-09-18T15:15","o":19891.3,"h":19923.3,"l":19878.5,"c":19918.5,"v":26,"k":"r","s":21},
{"t":"2022-09-18T15:30","o":19918.5,"h":19980.9,"l":19910.5,"c":19977.7,"v":34,"k":"g","s":23.5},
{"t":"2022-09-18T15:45","o":19972.9,"h":20032.1,"l":19971.3,"c":19992.1,"v":63,"k":"g","s":23.5},
{"t":"2022-09-18T16:00","o":19992.1,"h":20008.1,"l":19968.1,"c":19979.3,"v":46,"k":"g","s":23.5},
{"t":"2022-09-18T16:15","o":19977.7,"h":20000.1,"l":19958.5,"c":19961.7,"v":19,"k":"n","s":23.5},
{"t":"2022-09-18T16:30","o":19960.1,"h":20006.5,"l":19950.5,"c":20004.9,"v":19,"k":"n","s":23.5},
{"t":"2022-09-18T16:45","o":20006.5,"h":20012.9,"l":19963.3,"c":19968.1,"v":14,"k":"n","s":23.5},
{"t":"2022-09-18T17:00","o":19968.1,"h":19969.7,"l":19905.7,"c":19920.1,"v":41,"k":"r","s":23.5},
{"t":"2022-09-18T17:15","o":19921.7,"h":19940.9,"l":19859.3,"c":19907.3,"v":59,"k":"r","s":26},
{"t":"2022-09-18T17:30","o":19907.3,"h":19915.3,"l":19833.7,"c":19846.5,"v":74,"k":"r","s":26},
{"t":"2022-09-18T17:45","o":19840.1,"h":19844.9,"l":19744.1,"c":19816.1,"v":94,"k":"r","s":26},
{"t":"2022-09-18T18:00","o":19804.9,"h":19843.3,"l":19777.7,"c":19832.1,"v":73,"k":"r","s":26},
{"t":"2022-09-18T18:15","o":19828.9,"h":19864.1,"l":19825.7,"c":19860.9,"v":45,"k":"g","s":26},
{"t":"2022-09-18T18:30","o":19860.9,"h":19870.5,"l":19833.7,"c":19849.7,"v":31,"k":"g","s":26},
{"t":"2022-09-18T18:45","o":19849.7,"h":19851.3,"l":19793.7,"c":19812.9,"v":16,"k":"n","s":26},
{"t":"2022-09-18T19:00","o":19816.1,"h":19881.7,"l":19672.1,"c":19713.7,"v":79,"k":"r","s":27.5},
{"t":"2022-09-18T19:15","o":19718.5,"h":19755.3,"l":19696.1,"c":19697.7,"v":91,"k":"r","s":27.5},
{"t":"2022-09-18T19:30","o":19710.5,"h":19761.7,"l":19681.7,"c":19724.9,"v":63,"k":"r","s":27.5},
{"t":"2022-09-18T19:45","o":19710.5,"h":19731.3,"l":19697.7,"c":19727.901,"v":34.19,"k":"r","s":26.29}
]},
"vconcat":[
{
"width":1287,"height":545,
"layer":[
{"data":{"name":"bars"},"mark":{"type":"rule","color":"#00ff00","strokeWidth":1},
"encoding":{
"x":{"field":"t","type":"temporal","scale":{"domain":[{"year":2022,"month":9,"date":15,"hours":11,"minutes":43,"seconds":7,"milliseconds":500},{"year":2022,"month":9,"date":18,"hours":20,"minutes":9,"seconds":22,"milliseconds":500}]},
"axis":{"grid":true,"labels":false,"ticks":false,"domain":false,"tickCount":200,"values":[
{"year":2022,"month":9,"date":15,"hours":13,"minutes":45},{"year":2022,"month":9,"date":15,"hours":15,"minutes":45},{"year":2022,"month":9,"date":15,"hours":17,"minutes":45},{"year":2022,"month":9,"date":15,"hours":19,"minutes":45},{"year":2022,"month":9,"date":15,"hours":21,"minutes":45},{"year":2022,"month":9,"date":15,"hours":23,"minutes":45},
{"year":2022,"month":9,"date":16,"hours":1,"minutes":45},{"year":2022,"month":9,"date":16,"hours":3,"minutes":45},{"year":2022,"month":9,"date":16,"hours":5,"minutes":45},{"year":2022,"month":9,"date":16,"hours":7,"minutes":45},{"year":2022,"month":9,"date":16,"hours":9,"minutes":45},{"year":2022,"month":9,"date":16,"hours":11,"minutes":45},{"year":2022,"month":9,"date":16,"hours":13,"minutes":45},{"year":2022,"month":9,"date":16,"hours":15,"minutes":45},{"year":2022,"month":9,"date":16,"hours":17,"minutes":45},{"year":2022,"month":9,"date":16,"hours":19,"minutes":45},{"year":2022,"month":9,"date":16,"hours":21,"minutes":45},{"year":2022,"month":9,"date":16,"hours":23,"minutes":45},
{"year":2022,"month":9,"date":17,"hours":1,"minutes":45},{"year":2022,"month":9,"date":17,"hours":3,"minutes":45},{"year":2022,"month":9,"date":17,"hours":5,"minutes":45},{"year":2022,"month":9,"date":17,"hours":7,"minutes":45},{"year":2022,"month":9,"date":17,"hours":9,"minutes":45},{"year":2022,"month":9,"date":17,"hours":11,"minutes":45},{"year":2022,"month":9,"date":17,"hours":13,"minutes":45},{"year":2022,"month":9,"date":17,"hours":15,"minutes":45},{"year":2022,"month":9,"date":17,"hours":17,"minutes":45},{"year":2022,"month":9,"date":17,"hours":19,"minutes":45},{"year":2022,"month":9,"date":17,"hours":21,"minutes":45},{"year":2022,"month":9,"date":17,"hours":23,"minutes":45},
{"year":2022,"month":9,"date":18,"hours":1,"minutes":45},{"year":2022,"month":9,"date":18,"hours":3,"minutes":45},{"year":2022,"month":9,"date":18,"hours":5,"minutes":45},{"year":2022,"month":9,"date":18,"hours":7,"minutes":45},{"year":2022,"month":9,"date":18,"hours":9,"minutes":45},{"year":2022,"month":9,"date":18,"hours":11,"minutes":45},{"year":2022,"month":9,"date":18,"hours":13,"minutes":45},{"year":2022,"month":9,"date":18,"hours":15,"minutes":45},{"year":2022,"month":9,"date":18,"hours":17,"minutes":45},{"year":2022,"month":9,"date":18,"hours":19,"minutes":45}]}},
"y":{"field":"l","type":"quantitative","scale":{"domain":[19356.36,20229.73],"nice":false,"zero":false},
"axis":{"orient":"right","grid":true,"format":".3f","tickSize":4,"labelPadding":1,"labelFlush":false,"labelOverlap":false,"tickCount":200,
"labelBaseline":{"condition":{"test":"datum.value > 20200","value":"top"},"value":"middle"},
"labelOffset":{"condition":{"test":"datum.value > 20200","value":-3},"value":0},
"values":[20227.33,20176.05,20124.77,20073.49,20022.21,19970.93,19919.65,19868.37,19817.09,19765.81,19714.53,19663.25,19611.97,19560.69,19509.41,19458.13,19406.85]}},
"y2":{"field":"h"}}},
{"data":{"name":"bars"},"mark":{"type":"bar","width":2,"stroke":"#00ff00","strokeWidth":1},
"encoding":{"x":{"field":"t","type":"temporal"},"y":{"field":"o","type":"quantitative"},"y2":{"field":"c"},
"fill":{"condition":{"test":"datum.c < datum.o","value":"#ffffff"},"value":"#000000"}}},
{"data":{"values":[{"p":19727.901}]},"mark":{"type":"rule","color":"#778899","strokeWidth":1},
"encoding":{"y":{"field":"p","type":"quantitative"}}},
{"data":{"values":[{"p":19727.901}]},"mark":{"type":"rect","color":"#8593a1","clip":false},
"encoding":{"x":{"datum":{"year":2022,"month":9,"date":18,"hours":20,"minutes":24,"seconds":22},"type":"temporal"},"x2":{"datum":{"year":2022,"month":9,"date":18,"hours":23,"minutes":20,"seconds":37}},"y":{"datum":19734.55},"y2":{"datum":19720.13}}},
{"data":{"values":[{"p":"19727.901"}]},"mark":{"type":"text","align":"left","baseline":"middle","dx":8,"color":"#000000","font":"Liberation Sans","fontSize":9.5,"clip":false},
"encoding":{"x":{"datum":{"year":2022,"month":9,"date":18,"hours":20,"minutes":9,"seconds":22},"type":"temporal"},"y":{"datum":19727.901},"text":{"field":"p"}}},
{"data":{"values":[{"txt":"BTCUSD, M15:\u00a0 BitCoin vs US Dollar"}]},"mark":{"type":"text","align":"left","baseline":"top","dx":5,"dy":2,"color":"#5a90d0","font":"Liberation Sans","fontSize":9.5},
"encoding":{"x":{"datum":{"year":2022,"month":9,"date":15,"hours":11,"minutes":43,"seconds":8},"type":"temporal"},"y":{"datum":20229.73},"text":{"field":"txt"}}}
]
},
{
"width":1287,"height":112,
"layer":[
{"data":{"name":"bars"},"mark":{"type":"bar","width":2,"xOffset":-0.5},
"encoding":{
"x":{"field":"t","type":"temporal","scale":{"domain":[{"year":2022,"month":9,"date":15,"hours":11,"minutes":43,"seconds":7,"milliseconds":500},{"year":2022,"month":9,"date":18,"hours":20,"minutes":9,"seconds":22,"milliseconds":500}]},
"axis":{"grid":true,"domain":false,"tickSize":5,"labelPadding":0,"labelAlign":"left","labelBaseline":"top","labelOverlap":false,"labelFlush":false,"labelBound":false,"tickCount":200,
"gridOpacity":{"condition":{"test":"datum.value < datetime(2022, 8, 15, 12, 0)","value":0},"value":1},
"tickOpacity":{"condition":{"test":"(hours(datum.value) % 4) == 3 || datum.value < datetime(2022, 8, 15, 12, 0)","value":1},"value":0},
"labelExpr":"datum.value < datetime(2022, 8, 15, 12, 0) ? '15 Sep 2022' : ((hours(datum.value) % 4) == 3 ? timeFormat(datum.value, '%d %b %H:%M') : '')",
"values":[
{"year":2022,"month":9,"date":15,"hours":11,"minutes":45},
{"year":2022,"month":9,"date":15,"hours":13,"minutes":45},{"year":2022,"month":9,"date":15,"hours":15,"minutes":45},{"year":2022,"month":9,"date":15,"hours":17,"minutes":45},{"year":2022,"month":9,"date":15,"hours":19,"minutes":45},{"year":2022,"month":9,"date":15,"hours":21,"minutes":45},{"year":2022,"month":9,"date":15,"hours":23,"minutes":45},
{"year":2022,"month":9,"date":16,"hours":1,"minutes":45},{"year":2022,"month":9,"date":16,"hours":3,"minutes":45},{"year":2022,"month":9,"date":16,"hours":5,"minutes":45},{"year":2022,"month":9,"date":16,"hours":7,"minutes":45},{"year":2022,"month":9,"date":16,"hours":9,"minutes":45},{"year":2022,"month":9,"date":16,"hours":11,"minutes":45},{"year":2022,"month":9,"date":16,"hours":13,"minutes":45},{"year":2022,"month":9,"date":16,"hours":15,"minutes":45},{"year":2022,"month":9,"date":16,"hours":17,"minutes":45},{"year":2022,"month":9,"date":16,"hours":19,"minutes":45},{"year":2022,"month":9,"date":16,"hours":21,"minutes":45},{"year":2022,"month":9,"date":16,"hours":23,"minutes":45},
{"year":2022,"month":9,"date":17,"hours":1,"minutes":45},{"year":2022,"month":9,"date":17,"hours":3,"minutes":45},{"year":2022,"month":9,"date":17,"hours":5,"minutes":45},{"year":2022,"month":9,"date":17,"hours":7,"minutes":45},{"year":2022,"month":9,"date":17,"hours":9,"minutes":45},{"year":2022,"month":9,"date":17,"hours":11,"minutes":45},{"year":2022,"month":9,"date":17,"hours":13,"minutes":45},{"year":2022,"month":9,"date":17,"hours":15,"minutes":45},{"year":2022,"month":9,"date":17,"hours":17,"minutes":45},{"year":2022,"month":9,"date":17,"hours":19,"minutes":45},{"year":2022,"month":9,"date":17,"hours":21,"minutes":45},{"year":2022,"month":9,"date":17,"hours":23,"minutes":45},
{"year":2022,"month":9,"date":18,"hours":1,"minutes":45},{"year":2022,"month":9,"date":18,"hours":3,"minutes":45},{"year":2022,"month":9,"date":18,"hours":5,"minutes":45},{"year":2022,"month":9,"date":18,"hours":7,"minutes":45},{"year":2022,"month":9,"date":18,"hours":9,"minutes":45},{"year":2022,"month":9,"date":18,"hours":11,"minutes":45},{"year":2022,"month":9,"date":18,"hours":13,"minutes":45},{"year":2022,"month":9,"date":18,"hours":15,"minutes":45},{"year":2022,"month":9,"date":18,"hours":17,"minutes":45},{"year":2022,"month":9,"date":18,"hours":19,"minutes":45}]}},
"y":{"field":"v","type":"quantitative","scale":{"domain":[-22.0551,243.3184],"nice":false,"zero":false},
"axis":{"orient":"right","grid":true,"gridOpacity":{"condition":{"test":"datum.value == 0","value":1},"value":0},"format":".4f","labelExpr":"replace(datum.label, '\u2212', '-')","tickSize":4,"labelPadding":1,"labelFlush":true,"labelOverlap":false,"tickCount":200,"values":[243.3184,0,-22.0551]}},
"color":{"field":"k","type":"nominal","scale":{"domain":["g","r","n"],"range":["#32cd32","#ff0000","#808080"]},"legend":null}}},
{"data":{"name":"bars"},"mark":{"type":"line","color":"#1e90ff","strokeWidth":3},
"encoding":{"x":{"field":"t","type":"temporal"},"y":{"field":"s","type":"quantitative"}}},
{"data":{"values":[{"txt":"Braid filter with SuperSm\u00a0 0.0000 34.1908 0.0000 26.2914"}]},"mark":{"type":"text","align":"left","baseline":"top","dx":6.5,"dy":3,"color":"#5a90d0","font":"Liberation Sans","fontSize":9.5},
"encoding":{"x":{"datum":{"year":2022,"month":9,"date":15,"hours":11,"minutes":43,"seconds":8},"type":"temporal"},"y":{"datum":243.3184},"text":{"field":"txt"}}}
]
}
]
}
